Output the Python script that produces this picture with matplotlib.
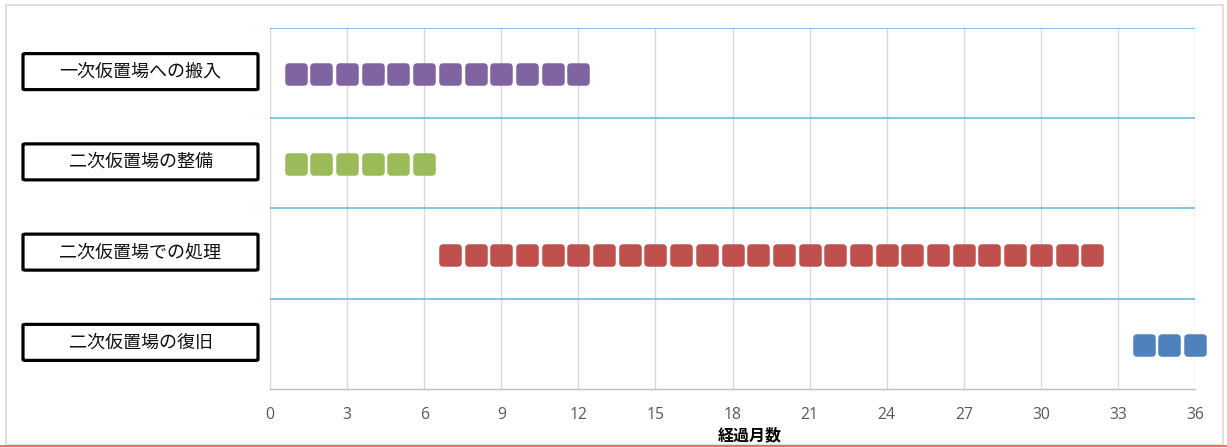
import matplotlib.pyplot as plt
from matplotlib.patches import BoxStyle, FancyBboxPatch, Rectangle
from matplotlib.lines import Line2D

plt.rcParams['font.family'] = ['Noto Sans CJK JP', 'DejaVu Sans']

tasks = ["一次仮置場への搬入", "二次仮置場の整備", "二次仮置場での処理", "二次仮置場の復旧"]
months = [
    [1, 2, 3, 4, 5, 6, 7, 8, 9, 10, 11, 12],
    [1, 2, 3, 4, 5, 6],
    [7, 8, 9, 10, 11, 12, 13, 14, 15, 16, 17, 18, 19, 20, 21, 22, 23, 24, 25, 26,
     27, 28, 29, 30, 31, 32],
    [34, 35, 36],
]
colors = ["#8064A2", "#9BBB59", "#C0504D", "#4F81BD"]
xticks = [0, 3, 6, 9, 12, 15, 18, 21, 24, 27, 30, 33, 36]
xlabel = "経過月数"

W, H = 1227, 448
fig = plt.figure(figsize=(W / 100, H / 100), dpi=100)

# outer frame and the red rule along the bottom
fig.patches.append(Rectangle((6 / W, 1 - 445 / H), (1223 - 6) / W, (445 - 5) / H,
                             transform=fig.transFigure, fill=False,
                             edgecolor="#D9D9D9", lw=1.2))
fig.lines.append(Line2D([0, 1], [1 - 446 / H, 1 - 446 / H], transform=fig.transFigure,
                        color="#FF5A5A", lw=1.3))

left, right, top, bottom = 270, 1195, 28, 389
ax = fig.add_axes([left / W, 1 - bottom / H, (right - left) / W, (bottom - top) / H])
ax.set_xlim(0, 36)
ax.set_ylim(0, len(tasks))

for s in ["top", "right", "left"]:
    ax.spines[s].set_visible(False)
ax.spines["bottom"].set_color("#BFBFBF")
ax.spines["bottom"].set_linewidth(1.0)

for x in xticks:
    ax.axvline(x, color="#D9D9D9", lw=1.0, zorder=0)
for y in range(1, len(tasks) + 1):
    ax.axhline(y, color="#5DB8D6", lw=1.1, zorder=1)

ax.set_yticks([])
ax.set_xticks(xticks)
ax.tick_params(axis="x", length=0, pad=13, labelsize=11.3, labelcolor="#595959")
for lbl in ax.get_xticklabels():
    lbl.set_family(["Open Sans", "DejaVu Sans"])
ax.set_xlabel(xlabel, fontsize=11.5, fontweight="bold", labelpad=1)
ax.xaxis.set_label_coords((750 - left) / (right - left), -0.105)

# rounded square marker
marker = BoxStyle.Round(pad=0, rounding_size=0.18)(-0.5, -0.5, 1, 1, 1)

n = len(tasks)
for i, (task, m, c) in enumerate(zip(tasks, months, colors)):
    yc = n - i - 0.5 - 0.01
    ax.scatter(m, [yc] * len(m), marker=marker, s=16.2 ** 2, color=c,
               linewidths=0, zorder=3, clip_on=False)

    # task name box at the left of each row
    bc = 1 - (top + (i + 0.5) * (bottom - top) / n - 1.5) / H
    bw, bh = 235 / W, 36 / H
    bx = 23 / W
    fig.patches.append(FancyBboxPatch((bx, bc - bh / 2), bw, bh,
                                      boxstyle="round,pad=0,rounding_size=0.002",
                                      transform=fig.transFigure, facecolor="white",
                                      edgecolor="black", lw=2.3))
    fig.text(bx + bw / 2, bc, task, ha="center", va="center", fontsize=13,
             color="#111111")

fig.savefig("out.png", dpi=100)
